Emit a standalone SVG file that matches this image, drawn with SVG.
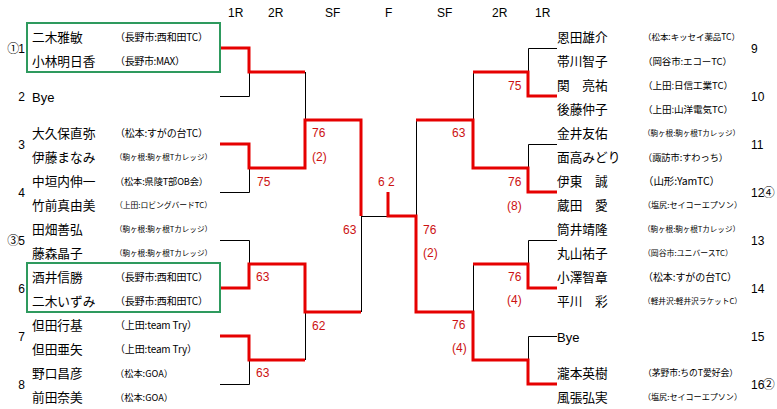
<svg xmlns="http://www.w3.org/2000/svg" width="777" height="409" viewBox="0 0 777 409">
<style>
.nm{font-family:"Noto Sans CJK JP",sans-serif;font-size:12.7px;fill:#000}
.cl{font-family:"Noto Sans CJK JP",sans-serif;font-size:10px;fill:#000}
.no{font-family:"Liberation Sans","Noto Sans CJK JP",sans-serif;font-size:12px;fill:#000}
.nl{text-anchor:end}
.hd{font-family:"Liberation Sans",sans-serif;font-size:12px;fill:#000}
.sc{font-family:"Liberation Sans",sans-serif;font-size:12px;fill:#cc1111}
.bk{stroke:#000;stroke-width:1;fill:none}
.rd{stroke:#e60000;stroke-width:3;fill:none;stroke-linejoin:miter}
.gb{stroke:#2e9a5e;stroke-width:2;fill:none}
</style>
<rect width="777" height="409" fill="#fff"/>
<g id="headers">
<text class="hd" x="228" y="17">1R</text>
<text class="hd" x="268" y="17">2R</text>
<text class="hd" x="325" y="17">SF</text>
<text class="hd" x="385" y="17">F</text>
<text class="hd" x="437" y="17">SF</text>
<text class="hd" x="492" y="17">2R</text>
<text class="hd" x="535" y="17">1R</text>
</g>
<g id="connectors">
<g class="bk">
<path d="M220 96.5H249.5V72"/>
<path d="M220 192.5H249.5V168"/>
<path d="M220 240.5H249.5V264"/>
<path d="M220 384.5H249.5V360"/>
<path d="M305.5 72V120"/>
<path d="M305.5 312V360"/>
<path d="M361.5 216V312"/>
<path d="M361 216.5H388"/>
<path d="M557 48.5H528.5V72"/>
<path d="M557 144.5H528.5V168"/>
<path d="M557 240.5H528.5V264"/>
<path d="M557 336.5H528.5V360"/>
<path d="M473.5 72V120"/>
<path d="M473.5 264V312"/>
<path d="M416.5 120V216"/>
</g>
<g class="rd">
<path d="M220 48H249V72H305"/>
<path d="M220 144H249V168H305V120H361V216"/>
<path d="M220 288H249V264H305V312H361"/>
<path d="M220 336H249V360H305"/>
<path d="M557 96H528V72H473"/>
<path d="M557 192H528V168H473V120H416"/>
<path d="M557 288H528V264H473"/>
<path d="M557 384H528V360H473V312H416V216H388V192"/>
</g>
</g>
<g id="scores">
<text class="sc" x="257" y="186">75</text>
<text class="sc" x="312" y="137">76</text>
<text class="sc" x="312" y="161">(2)</text>
<text class="sc" x="256" y="281">63</text>
<text class="sc" x="312" y="330">62</text>
<text class="sc" x="256" y="377">63</text>
<text class="sc" x="343" y="234">63</text>
<text class="sc" x="378" y="186">6 2</text>
<text class="sc" x="508" y="90">75</text>
<text class="sc" x="452" y="137">63</text>
<text class="sc" x="508" y="186">76</text>
<text class="sc" x="507" y="210">(8)</text>
<text class="sc" x="423" y="234">76</text>
<text class="sc" x="423" y="257">(2)</text>
<text class="sc" x="508" y="281">76</text>
<text class="sc" x="507" y="304">(4)</text>
<text class="sc" x="452" y="329">76</text>
<text class="sc" x="452" y="352">(4)</text>
</g>
<g id="p1">
<rect class="gb" x="27" y="23" width="193" height="49"/>
<text class="no nl" x="25" y="53">①<tspan dx="-1">1</tspan></text>
<text class="nm" x="32" y="42">二木雅敏</text>
<text class="cl" x="115" y="40.8" textLength="93">（長野市:西和田TC）</text>
<text class="nm" x="32" y="66">小林明日香</text>
<text class="cl" x="115" y="64.8" textLength="70">（長野市:MAX）</text>
</g>
<g id="p2">
<text class="no nl" x="25" y="101">2</text>
<text class="no" x="32" y="102" style="font-size:13px">Bye</text>
</g>
<g id="p3">
<text class="no nl" x="25" y="149">3</text>
<text class="nm" x="32" y="138">大久保直弥</text>
<text class="cl" x="115" y="136.8" textLength="93">（松本:すがの台TC）</text>
<text class="nm" x="32" y="162">伊藤まなみ</text>
<text class="cl" x="115" y="159.9" textLength="97" style="font-size:7.6px">（駒ヶ根:駒ヶ根Tカレッジ）</text>
</g>
<g id="p4">
<text class="no nl" x="25" y="197">4</text>
<text class="nm" x="32" y="186">中垣内伸一</text>
<text class="cl" x="115" y="184.5" textLength="93" style="font-size:9.2px">（松本:県陵T部OB会）</text>
<text class="nm" x="32" y="210">竹前真由美</text>
<text class="cl" x="115" y="208" textLength="97" style="font-size:7.85px">（上田:ロビングバードTC）</text>
</g>
<g id="p5">
<text class="no nl" x="25" y="245">③<tspan dx="-1">5</tspan></text>
<text class="nm" x="32" y="234">田畑善弘</text>
<text class="cl" x="115" y="231.9" textLength="97" style="font-size:7.6px">（駒ヶ根:駒ヶ根Tカレッジ）</text>
<text class="nm" x="32" y="258">藤森晶子</text>
<text class="cl" x="115" y="255.9" textLength="97" style="font-size:7.6px">（駒ヶ根:駒ヶ根Tカレッジ）</text>
</g>
<g id="p6">
<rect class="gb" x="27" y="263" width="193" height="49"/>
<text class="no nl" x="25" y="293">6</text>
<text class="nm" x="32" y="282">酒井信勝</text>
<text class="cl" x="115" y="280.8" textLength="93">（長野市:西和田TC）</text>
<text class="nm" x="32" y="306">二木いずみ</text>
<text class="cl" x="115" y="304.8" textLength="93">（長野市:西和田TC）</text>
</g>
<g id="p7">
<text class="no nl" x="25" y="341">7</text>
<text class="nm" x="32" y="330">但田行基</text>
<text class="cl" x="115" y="328.8" textLength="82">（上田:team Try）</text>
<text class="nm" x="32" y="354">但田亜矢</text>
<text class="cl" x="115" y="352.8" textLength="82">（上田:team Try）</text>
</g>
<g id="p8">
<text class="no nl" x="25" y="389">8</text>
<text class="nm" x="32" y="378">野口昌彦</text>
<text class="cl" x="115" y="376.5" textLength="58" style="font-size:9.2px">（松本:GOA）</text>
<text class="nm" x="32" y="402">前田奈美</text>
<text class="cl" x="115" y="400.5" textLength="58" style="font-size:9.2px">（松本:GOA）</text>
</g>
<g id="p9">
<text class="no" x="751" y="53">9</text>
<text class="nm" x="557" y="42">恩田雄介</text>
<text class="cl" x="643" y="40.2" textLength="97" style="font-size:8.5px">（松本:キッセイ薬品TC）</text>
<text class="nm" x="557" y="66">帯川智子</text>
<text class="cl" x="643" y="64.6" textLength="89" style="font-size:9.5px">（岡谷市:エコーTC）</text>
</g>
<g id="p10">
<text class="no" x="751" y="101">10</text>
<text class="nm" x="557" y="90">関　亮祐</text>
<text class="cl" x="643" y="88.6" textLength="90" style="font-size:9.6px">（上田:日信工業TC）</text>
<text class="nm" x="557" y="114">後藤仲子</text>
<text class="cl" x="643" y="112.6" textLength="90" style="font-size:9.6px">（上田:山洋電気TC）</text>
</g>
<g id="p11">
<text class="no" x="751" y="149">11</text>
<text class="nm" x="557" y="138">金井友佑</text>
<text class="cl" x="643" y="135.9" textLength="97" style="font-size:7.6px">（駒ヶ根:駒ヶ根Tカレッジ）</text>
<text class="nm" x="557" y="162">面高みどり</text>
<text class="cl" x="643" y="160.5" textLength="85" style="font-size:9.2px">（諏訪市:すわっち）</text>
</g>
<g id="p12">
<text class="no" x="751" y="197">12<tspan dx="-1.5">④</tspan></text>
<text class="nm" x="557" y="186">伊東　誠</text>
<text class="cl" x="643" y="185" textLength="77" style="font-size:10.5px">（山形:YamTC）</text>
<text class="nm" x="557" y="210">蔵田　愛</text>
<text class="cl" x="643" y="208.1" textLength="99" style="font-size:8.1px">（塩尻:セイコーエプソン）</text>
</g>
<g id="p13">
<text class="no" x="751" y="245">13</text>
<text class="nm" x="557" y="234">筒井靖隆</text>
<text class="cl" x="643" y="231.9" textLength="97" style="font-size:7.6px">（駒ヶ根:駒ヶ根Tカレッジ）</text>
<text class="nm" x="557" y="258">丸山祐子</text>
<text class="cl" x="643" y="256" textLength="90" style="font-size:7.9px">（岡谷市:ユニバースTC）</text>
</g>
<g id="p14">
<text class="no" x="751" y="293">14</text>
<text class="nm" x="557" y="282">小澤智章</text>
<text class="cl" x="643" y="280.8" textLength="94">（松本:すがの台TC）</text>
<text class="nm" x="557" y="306">平川　彩</text>
<text class="cl" x="643" y="303.9" textLength="99" style="font-size:7.7px">（軽井沢:軽井沢ラケットC）</text>
</g>
<g id="p15">
<text class="no" x="751" y="341">15</text>
<text class="no" x="557" y="342" style="font-size:13px">Bye</text>
</g>
<g id="p16">
<text class="no" x="751" y="389">16<tspan dx="-1.5">②</tspan></text>
<text class="nm" x="557" y="378">瀧本英樹</text>
<text class="cl" x="643" y="376.3" textLength="95" style="font-size:8.8px">（茅野市:ちのT愛好会）</text>
<text class="nm" x="557" y="402">風張弘実</text>
<text class="cl" x="643" y="400.1" textLength="99" style="font-size:8.1px">（塩尻:セイコーエプソン）</text>
</g>
</svg>
